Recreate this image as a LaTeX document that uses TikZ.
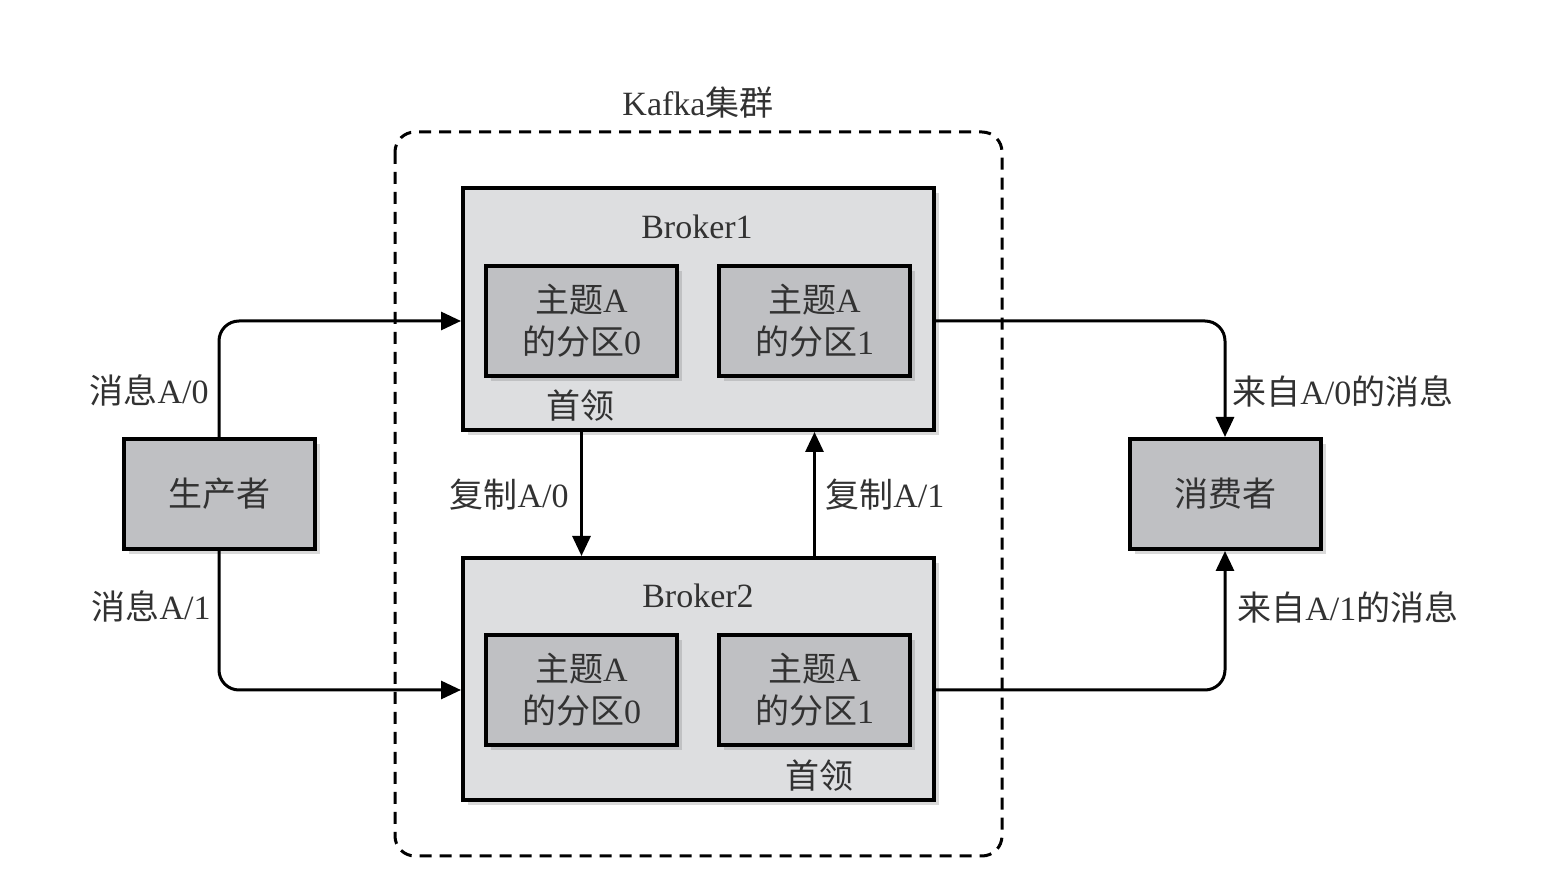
\documentclass[tikz,border=0pt]{standalone}
\usepackage{fontspec}
\setmainfont{Liberation Serif}
\newfontfamily\cjk{Noto Sans CJK SC}
\usetikzlibrary{arrows.meta,shadows,calc}
\definecolor{kf_light}{RGB}{221, 222, 224}
\definecolor{kf_dark}{RGB}{191, 192, 195}
\definecolor{kf_text}{RGB}{50, 50, 50}
\newcommand{\zh}[1]{{\cjk #1}}
\tikzstyle{shad}=[drop shadow={shadow xshift=2.5pt,shadow yshift=-2.5pt,opacity=0.3}]
\tikzstyle{broker}=[rectangle,fill=kf_light,draw=black,line width=2pt,
  minimum width=235.5pt,minimum height=121pt,shad]
\tikzstyle{part}=[rectangle,fill=kf_dark,draw=black,line width=2pt,
  minimum width=95.5pt,minimum height=55pt,align=center,text=kf_text,
  font=\fontsize{17}{21}\selectfont,shad]
\tikzstyle{lbl}=[text=kf_text,inner sep=0pt,font=\fontsize{17}{21}\selectfont]
\tikzstyle{msg}=[line width=1.5pt,rounded corners=10pt,
  -{Triangle[length=10pt,width=9pt]}]

\begin{document}
\begin{tikzpicture}[x=0.5pt, y=-0.5pt]
    \useasboundingbox (0, 0) rectangle (1560, 876);
    % cluster
    \draw [line width=1.5pt, dash pattern=on 6pt off 4pt, rounded corners=10pt]
      (395, 132) rectangle (1002, 856);
    \node [lbl] (kt) at (698, 103) {Kafka\zh{集群}};
    % brokers
    \node [style=broker] (b1) at (698.5, 309) {};
    \node [style=broker] (b2) at (698.5, 679) {};
    \node [lbl] (b1t) at (697, 227) {Broker1};
    \node [lbl] (b2t) at (698, 596) {Broker2};
    \node [style=part] (p10) at (581.5, 321) {\zh{主题}A\\\zh{的分区}0};
    \node [style=part] (p11) at (814.5, 321) {\zh{主题}A\\\zh{的分区}1};
    \node [style=part] (p20) at (581.5, 690) {\zh{主题}A\\\zh{的分区}0};
    \node [style=part] (p21) at (814.5, 690) {\zh{主题}A\\\zh{的分区}1};
    \node [lbl] (ld1) at (580, 406) {\zh{首领}};
    \node [lbl] (ld2) at (819, 776) {\zh{首领}};
    % clients
    \node [style=part] (prod) at (219, 494) {\zh{生产者}};
    \node [style=part] (cons) at (1225, 494) {\zh{消费者}};
    % messages
    \draw [style=msg] (prod.north) |- (b1.west |- p10.center);
    \draw [style=msg] (prod.south) |- (b2.west |- p20.center);
    \draw [style=msg] (b1.east |- p11.center) -| (cons.north);
    \draw [style=msg] (b2.east |- p21.center) -| (cons.south);
    \draw [style=msg] (b1.south -| p10.center) to (b2.north -| p10.center);
    \draw [style=msg] (b2.north -| p11.center) to (b1.south -| p11.center);
    \node [lbl, anchor=east] (m0) at (209, 390) {\zh{消息}A/0};
    \node [lbl, anchor=east] (m1) at (211, 606) {\zh{消息}A/1};
    \node [lbl, anchor=west] (c0) at (1232, 391) {\zh{来自}A/0\zh{的消息}};
    \node [lbl, anchor=west] (c1) at (1237, 607) {\zh{来自}A/1\zh{的消息}};
    \node [lbl, anchor=east] (r0) at (569, 495) {\zh{复制}A/0};
    \node [lbl, anchor=west] (r1) at (825, 495) {\zh{复制}A/1};
\end{tikzpicture}
\end{document}
